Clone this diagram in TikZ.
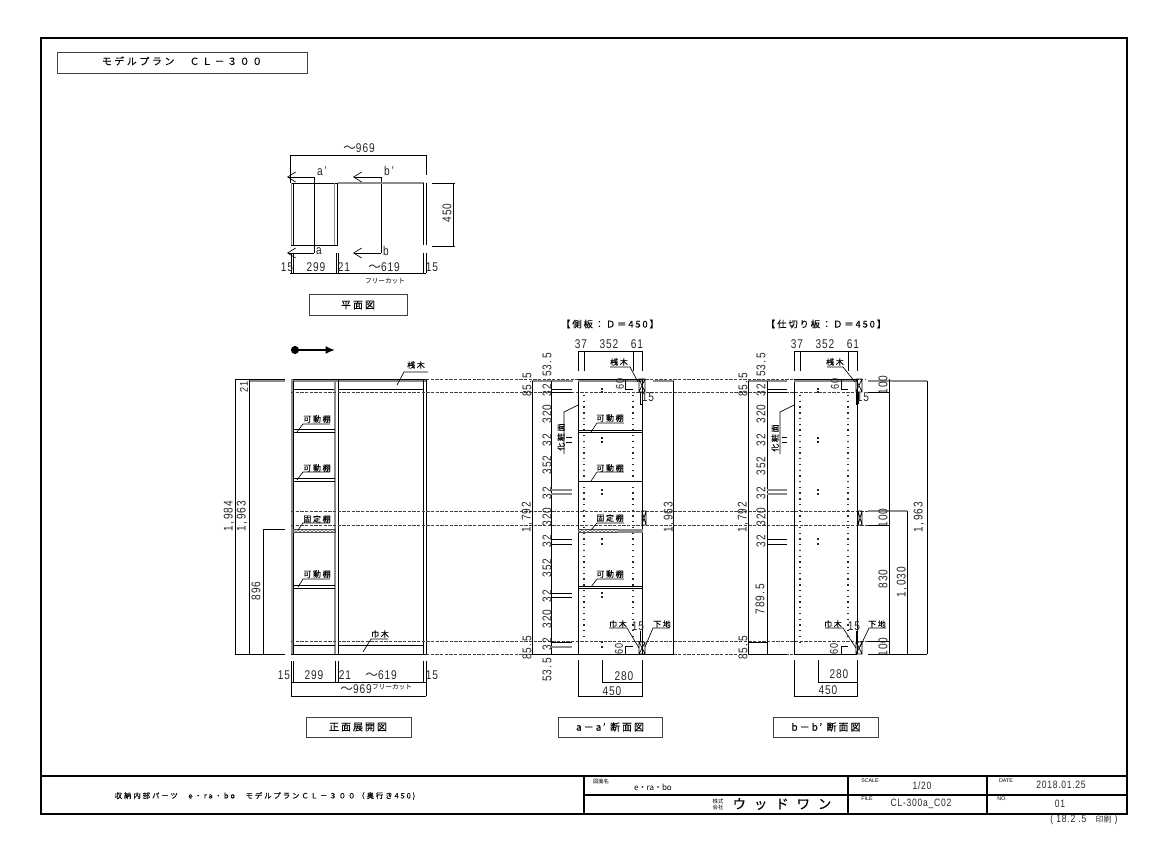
\documentclass[tikz,border=0pt]{standalone}
\usepackage{fontspec}
\usetikzlibrary{arrows.meta,patterns}
\newfontfamily\dimfam[LetterSpace=7,FakeStretch=0.8]{Liberation Sans}
\newfontfamily\jpfam[LetterSpace=20,FakeBold=0.1]{Noto Sans CJK JP}
\newfontfamily\jpwide[LetterSpace=27,FakeBold=0.1]{Noto Sans CJK JP}
\newfontfamily\jptight{Noto Sans CJK JP}
\newfontfamily\blockfam{Liberation Sans}
\newcommand{\wavesign}{{\jptight ～}}
\tikzset{
  every picture/.style={line width=0.5pt},
  dimtxt/.style={inner sep=0pt,text=black!85,font=\dimfam\fontsize{9.5}{9.5}\selectfont},
  dimvert/.style={dimtxt,rotate=90},
  smalldim/.style={inner sep=0pt,text=black!85,font=\dimfam\fontsize{8.5}{8.5}\selectfont},
  smallvert/.style={smalldim,rotate=90},
  partlabel/.style={inner sep=0pt,font=\jpfam\fontsize{6}{6}\selectfont},
  partvert/.style={partlabel,rotate=90},
  freecut/.style={inner sep=0pt,font=\jptight\fontsize{5}{5}\selectfont},
  viewtitle/.style={inner sep=0pt,font=\jpfam\fontsize{7.5}{7.5}\selectfont},
  sectitle/.style={inner sep=0pt,font=\jpfam\fontsize{7}{7}\selectfont},
  blockjp/.style={inner sep=0pt,font=\jpwide\fontsize{5.5}{5.5}\selectfont},
  blocksmall/.style={inner sep=0pt,font=\blockfam\fontsize{4}{4}\selectfont},
  blocktxt/.style={inner sep=0pt,text=black!85,font=\dimfam\fontsize{8}{8}\selectfont},
  viewbox/.style={draw=black!75,line width=0.7pt},
  frameline/.style={line width=1.4pt},
  greyline/.style={draw=black!45,line width=0.9pt},
  greybar/.style={draw=black!45,line width=1.8pt},
  hidden/.style={draw=black!75,line width=0.45pt,dash pattern=on 2.5pt off 1pt},
  dotrow/.style={draw=black!85,line width=1pt,dash pattern=on 1pt off 3.3pt},
  dotpair/.style={draw=black!85,line width=1pt},
  cutarrow/.style={-{Straight Barb[length=6pt,width=7.5pt]}},
}
\begin{document}
\begin{tikzpicture}[x=0.75pt,y=0.75pt,yscale=-1,xscale=1]
\useasboundingbox (0,0) rectangle (1169,852);

%Frame and title block
\draw [frameline] (41,38) rectangle (1127,814);
\draw [frameline] (41,776) -- (1127,776) (584,776) -- (584,814) (848,776) -- (848,814) (987,776) -- (987,814) ;
\draw [line width=1pt] (584,795) -- (1127,795) ;
%View boxes
\draw [viewbox] (57,52) rectangle (307,73);
\draw [viewbox] (309,294) rectangle (407,315);
\draw [viewbox] (306,717) rectangle (411,737);
\draw [viewbox] (558,717) rectangle (662,737);
\draw [viewbox] (773,717) rectangle (878,737);

%Plan
\draw (290,183) -- (290,155) -- (426,155) -- (426,175) ;
\draw [cutarrow] (314,177) -- (287,177) ;
\draw [cutarrow] (314,253) -- (287,253) ;
\draw (314,177) -- (314,253) ;
\draw [cutarrow] (381,177) -- (353,177) ;
\draw [cutarrow] (381,253) -- (353,253) ;
\draw (381,177) -- (381,253) ;
\draw [greybar] (338,183) -- (424,183) ;
\draw (291,183) -- (338,183) (291,245) -- (338,245) ;
\draw [greyline] (291.5,183) -- (291.5,245) (334.5,183) -- (334.5,245) ;
\draw (293,183) -- (293,245) (337.5,183) -- (337.5,245) (423.5,183) -- (423.5,245) (426,183) -- (426,245) ;
\draw (432,183) -- (455,183) (432,246) -- (455,246) (453,183) -- (453,246) ;
\draw (290,273) -- (426,273) ;
\draw (291,253) -- (291,273) (293,253) -- (293,273) (336,253) -- (336,273) (338,253) -- (338,273) (423.5,253) -- (423.5,273) (426,253) -- (426,273) ;

%Front view
\draw [line width=1.3pt,{Circle[length=6pt,width=6pt]}-{Latex[length=7pt,width=6pt]}] (291,350) -- (335,350) ;
\draw (291,379) -- (426,379) (292,389) -- (335,389) (338,389) -- (423,389) ;
\draw [greyline] (292,381) -- (426,381) ;
\draw [greybar] (292,379) -- (292,654) ;
\draw [greyline] (335,381) -- (335,654) ;
\draw (293.5,381) -- (293.5,654) (338,379) -- (338,654) (423,379) -- (423,654) (426,379) -- (426,654) ;
\draw (291,654) -- (426,654) (293,645) -- (335,645) (338,645) -- (423,645) ;
\draw (293,429) -- (335,429) (293,432) -- (335,432) (293,478) -- (335,478) (293,481) -- (335,481) (293,585) -- (335,585) (293,588) -- (335,588) ;
\draw [pattern=crosshatch,pattern color=black!60,draw=black!70] (293,529) rectangle (335,532.5);
%Front view dimensions
\draw (235,379) -- (285,379) (235,654) -- (285,654) (263,529) -- (285,529) ;
\draw [greyline] (249,381) -- (285,381) ;
\draw (235,379) -- (235,654) (249,379) -- (249,654) (263,529) -- (263,654) ;
\draw (291,661) -- (291,696) (293,661) -- (293,682) (335,661) -- (335,682) (338,661) -- (338,682) (423,661) -- (423,682) (426,661) -- (426,696) ;
\draw (291,682) -- (426,682) (291,696) -- (426,696) ;
%Front view leaders
\draw (428,372) -- (404,372) -- (397,385) ;
\draw (330,424) -- (303,424) -- (297,432) ;
\draw (330,472) -- (303,472) -- (297,480) ;
\draw (330,523) -- (303,523) -- (298,530) ;
\draw (330,579) -- (303,579) -- (298,587) ;
\draw (388,639) -- (371,639) -- (363,652) ;

%Hidden lines
\draw [hidden] (426,379) -- (865,379) ;
\draw [hidden] (291,392) -- (860,392) ;
\draw [hidden] (291,511) -- (868,511) ;
\draw [hidden] (291,525) -- (868,525) ;
\draw [hidden] (291,641) -- (868,641) ;
\draw [hidden] (426,654) -- (794,654) ;

%Section a
\draw (578,371) -- (578,351) -- (642,351) -- (642,371) (584,351) -- (584,371) (633,351) -- (633,371) ;
\draw (578,379) -- (642,379) (578,379) -- (578,654) (642,379) -- (642,654) (532,654) -- (674,654) ;
\draw [greyline] (578,381) -- (642,381) (532,381) -- (573,381) (653,381) -- (674,381) ;
\draw (532,381) -- (532,654) (551,381) -- (551,654) (673.5,381) -- (673.5,654) ;
\draw (551,389) -- (572,389) (551,392) -- (572,392) (566,437) -- (572,437) (566,442) -- (572,442) (551,539) -- (572,539) (551,544) -- (572,544) (551,593) -- (572,593) (551,597) -- (572,597) (551,642) -- (572,642) ;
\draw [greyline] (551,490) -- (572,490) (551,494) -- (572,494) (551,647) -- (572,647) ;
\draw (578,405) -- (564,412) -- (564,454) ;
\draw [dotrow] (584,395) -- (584,638) (633,395) -- (633,640) ;
\draw [dotpair] (602,388) -- (602,389.5) (602,391) -- (602,392.5) (602,437) -- (602,438.5) (602,441) -- (602,442.5) (602,489) -- (602,490.5) (602,493) -- (602,494.5) (602,538) -- (602,539.5) (602,543) -- (602,544.5) (602,592) -- (602,593.5) (602,596) -- (602,597.5) (602,641) -- (602,642.5) (602,646) -- (602,647.5) ;
\draw (578,430) -- (642,430) (578,432) -- (642,432) (578,481) -- (642,481) (578,586) -- (642,586) (578,588.5) -- (642,588.5) ;
\draw [pattern=crosshatch,pattern color=black!60,draw=black!70] (578,529) rectangle (618,532.5);
\draw [draw=black!45,fill=black!45] (618,529) rectangle (642,532.5);
\draw (639,379) rectangle (645,392) (639,379) -- (645,392) (645,379) -- (639,392) ;
\draw (642,511) rectangle (646,525) (642,511) -- (646,525) (646,511) -- (642,525) ;
\draw (639,642) rectangle (645,654) (639,642) -- (645,654) (645,642) -- (639,654) ;
\draw (610,367) -- (630,367) -- (638,382) ;
\draw (597,423) -- (624,423) (597,423) -- (591,432) ;
\draw (597,472) -- (624,472) (597,472) -- (591,481) ;
\draw (597,523) -- (624,523) (597,523) -- (591,530) ;
\draw (597,579) -- (624,579) (597,579) -- (591,587) ;
\draw (609,628) -- (627,628) -- (639,648) ;
\draw (670,628) -- (653,628) -- (645,647) ;
\draw (625,379) -- (625,389) -- (633,389) (625,654) -- (625,646) -- (633,646) ;
\draw (640,392) -- (640,404) (642,392) -- (642,404) (640,404) -- (642,404) (640,631) -- (640,642) ;
\draw (578,660) -- (578,696) -- (642,696) -- (642,660) (602,660) -- (602,682) -- (642,682) ;

%Section b
\draw (794,371) -- (794,351) -- (857,351) -- (857,371) (800,351) -- (800,371) (848,351) -- (848,371) ;
\draw (794,379) -- (857,379) (794,379) -- (794,654) (857,379) -- (857,654) (748,654) -- (787,654) (794,654) -- (857,654) (868,654) -- (927,654) ;
\draw [greyline] (794,381) -- (857,381) (748,381) -- (787,381) (868,381) -- (927,381) (868,511) -- (907,511) ;
\draw (748,381) -- (748,654) (767,381) -- (767,654) (889,379) -- (889,654) (907,511) -- (907,654) (927,381) -- (927,654) ;
\draw (868,392) -- (889,392) (868,525) -- (889,525) (868,641) -- (889,641) (748,642) -- (767,642) ;
\draw (767,389) -- (787,389) (767,392) -- (787,392) (782,437) -- (787,437) (782,442) -- (787,442) (767,539) -- (787,539) (767,544) -- (787,544) ;
\draw [greyline] (767,490) -- (787,490) (767,494) -- (787,494) ;
\draw (794,405) -- (780,412) -- (780,454) ;
\draw [dotrow] (800,395) -- (800,642) (848,395) -- (848,640) ;
\draw [dotpair] (818,388) -- (818,389.5) (818,391) -- (818,392.5) (818,437) -- (818,438.5) (818,441) -- (818,442.5) (818,489) -- (818,490.5) (818,493) -- (818,494.5) (818,538) -- (818,539.5) (818,543) -- (818,544.5) ;
\draw (856,379) rectangle (862,392) (856,379) -- (862,392) (862,379) -- (856,392) ;
\draw (858,511) rectangle (862,525) (858,511) -- (862,525) (862,511) -- (858,525) ;
\draw (856,642) rectangle (862,654) (856,642) -- (862,654) (862,642) -- (856,654) ;
\draw (827,367) -- (843,367) -- (855,382) ;
\draw (825,628) -- (843,628) -- (856,648) ;
\draw (886,628) -- (869,628) -- (860,647) ;
\draw (841,379) -- (841,389) -- (848,389) (841,654) -- (841,646) -- (848,646) ;
\draw (856,392) -- (856,404) (858,392) -- (858,404) (856,404) -- (858,404) (856,631) -- (856,642) ;
\draw (794,660) -- (794,696) -- (857,696) -- (857,660) (818,660) -- (818,682) -- (857,682) ;

% Text Node
\node (modelTitle) [inner sep=0pt,font=\jpwide\fontsize{7.4}{7.4}\selectfont] at (182,61) {モデルプラン　ＣＬ－３００};
% Text Node
\node (planWidth) [dimtxt] at (359,148) {\wavesign 969};
\node (planCutA) [dimtxt] at (319,251) {a};
\node (planCutAp) [dimtxt] at (322,171) {a\,’};
\node (planCutB) [dimtxt] at (386,251) {b};
\node (planCutBp) [dimtxt] at (389,171) {b\,’};
\node (planDepth) [dimvert] at (447,213) {450};
\node (planSideL) [dimtxt] at (287,267) {15};
\node (planShelf) [dimtxt] at (316,267) {299};
\node (planDiv) [dimtxt] at (344,267) {21};
\node (planFree) [dimtxt] at (384,267) {\wavesign 619};
\node (planSideR) [dimtxt] at (432,267) {15};
\node (planCutNote) [freecut] at (385,281) {フリーカット};
\node (planName) [viewtitle] at (358,305) {平面図};
% Text Node
\node (frontBatten) [partlabel] at (416,365) {桟木};
\node (frontShelfA) [partlabel] at (317,419) {可動棚};
\node (frontShelfB) [partlabel] at (317,468) {可動棚};
\node (frontFixed) [partlabel] at (317,519) {固定棚};
\node (frontShelfC) [partlabel] at (317,574) {可動棚};
\node (frontSkirt) [partlabel] at (380,634) {巾木};
\node (frontTop) [smallvert] at (244,387) {21};
\node (frontFull) [dimvert] at (229,516) {1,\,984};
\node (frontInner) [dimvert] at (242,516) {1,\,963};
\node (frontFixedH) [dimvert] at (256,591) {896};
\node (frontSideL) [dimtxt] at (284,675) {15};
\node (frontShelf) [dimtxt] at (314,675) {299};
\node (frontDiv) [dimtxt] at (345,675) {21};
\node (frontFree) [dimtxt] at (381,675) {\wavesign 619};
\node (frontSideR) [dimtxt] at (432,675) {15};
\node (frontWidth) [dimtxt] at (356,689) {\wavesign 969};
\node (frontCutNote) [freecut] at (392,687) {フリーカット};
\node (frontName) [viewtitle] at (358,727) {正面展開図};
% Text Node
\node (secATitle) [sectitle] at (610,324) {【側板：Ｄ＝450】};
\node (secADa) [dimtxt] at (581,344) {37};
\node (secADb) [dimtxt] at (609,344) {352};
\node (secADc) [dimtxt] at (637,344) {61};
\node (secABatten) [partlabel] at (619,362) {桟木};
\node (secAShelfA) [partlabel] at (610,418) {可動棚};
\node (secAShelfB) [partlabel] at (610,468) {可動棚};
\node (secAFixed) [partlabel] at (610,518) {固定棚};
\node (secAShelfC) [partlabel] at (610,574) {可動棚};
\node (secASkirt) [partlabel] at (618,624) {巾木};
\node (secABase) [partlabel] at (662,624) {下地};
\node (secAFace) [partvert] at (561,437) {化粧面};
\node (secATopA) [smallvert] at (620,384) {60};
\node (secABotA) [smallvert] at (619,649) {60};
\node (secATopB) [dimtxt] at (648,397) {15};
\node (secABotB) [dimtxt] at (638,626) {15};
\node (secAV1) [dimvert] at (547,365) {53.\,5};
\node (secAV2) [dimvert] at (527,385) {85.\,5};
\node (secAV3) [dimvert] at (547,390) {32};
\node (secAV4) [dimvert] at (547,414) {320};
\node (secAV5) [dimvert] at (547,440) {32};
\node (secAV6) [dimvert] at (547,465) {352};
\node (secAV7) [dimvert] at (547,493) {32};
\node (secAV8) [dimvert] at (547,517) {320};
\node (secAV9) [dimvert] at (527,517) {1,\,792};
\node (secAV10) [dimvert] at (547,541) {32};
\node (secAV11) [dimvert] at (547,568) {352};
\node (secAV12) [dimvert] at (547,596) {32};
\node (secAV13) [dimvert] at (547,619) {320};
\node (secAV14) [dimvert] at (547,644) {32};
\node (secAV15) [dimvert] at (527,648) {85.\,5};
\node (secAV16) [dimvert] at (547,670) {53.\,5};
\node (secAHigh) [dimvert] at (669,517) {1,\,963};
\node (secADeepA) [dimtxt] at (624,676) {280};
\node (secADeepB) [dimtxt] at (612,691) {450};
\node (secAName) [viewtitle] at (610,727) {a－a\,’ 断面図};
% Text Node
\node (secBTitle) [sectitle] at (826,324) {【仕切り板：Ｄ＝450】};
\node (secBDa) [dimtxt] at (797,344) {37};
\node (secBDb) [dimtxt] at (825,344) {352};
\node (secBDc) [dimtxt] at (853,344) {61};
\node (secBBatten) [partlabel] at (835,362) {桟木};
\node (secBSkirt) [partlabel] at (833,624) {巾木};
\node (secBBase) [partlabel] at (877,624) {下地};
\node (secBFace) [partvert] at (775,438) {化粧面};
\node (secBTopA) [smallvert] at (835,384) {60};
\node (secBBotA) [smallvert] at (834,649) {60};
\node (secBTopB) [dimtxt] at (863,397) {15};
\node (secBBotB) [dimtxt] at (854,626) {15};
\node (secBV1) [dimvert] at (761,365) {53.\,5};
\node (secBV2) [dimvert] at (743,385) {85.\,5};
\node (secBV3) [dimvert] at (761,390) {32};
\node (secBV4) [dimvert] at (761,414) {320};
\node (secBV5) [dimvert] at (761,440) {32};
\node (secBV6) [dimvert] at (761,466) {352};
\node (secBV7) [dimvert] at (761,493) {32};
\node (secBV8) [dimvert] at (761,517) {320};
\node (secBV9) [dimvert] at (743,517) {1,\,792};
\node (secBV10) [dimvert] at (761,541) {32};
\node (secBV11) [dimvert] at (760,599) {789.\,5};
\node (secBV12) [dimvert] at (743,648) {85.\,5};
\node (secBHundA) [dimvert] at (883,385) {100};
\node (secBHundB) [dimvert] at (883,518) {100};
\node (secBHundC) [dimvert] at (883,647) {100};
\node (secBLowA) [dimvert] at (883,579) {830};
\node (secBLowB) [dimvert] at (902,582) {1,\,030};
\node (secBHigh) [dimvert] at (919,517) {1,\,963};
\node (secBDeepA) [dimtxt] at (839,674) {280};
\node (secBDeepB) [dimtxt] at (828,690) {450};
\node (secBName) [viewtitle] at (826,727) {b－b\,’ 断面図};
% Text Node
\node (blockName) [blockjp] at (265,796) {収納内部パーツ\hspace{8pt}e・ra・bo\hspace{8pt}モデルプランＣＬ－３００（奥行き450)};
\node (blockDwg) [inner sep=0pt,font=\jptight\fontsize{4}{4}\selectfont] at (601,781) {図面名};
\node (blockSeries) [inner sep=0pt,font=\jptight\fontsize{6}{6}\selectfont] at (653,787) {e・ra・bo};
\node (blockCorpA) [inner sep=0pt,font=\jptight\fontsize{4}{4}\selectfont] at (718,801) {株式};
\node (blockCorpB) [inner sep=0pt,font=\jptight\fontsize{4}{4}\selectfont] at (718,807) {会社};
\node (blockMaker) [inner sep=0pt,font=\jpwide\fontsize{10}{10}\selectfont] at (782,804) {ウ\hspace{6pt}ッ\hspace{6pt}ド\hspace{6pt}ワ\hspace{6pt}ン};
\node (blockScaleKey) [blocksmall] at (870,781) {SCALE};
\node (blockScale) [blocktxt] at (922,786) {1/20};
\node (blockFileKey) [blocksmall] at (867,799) {FILE};
\node (blockFile) [blocktxt] at (921,804) {CL-300a\_C02};
\node (blockDateKey) [blocksmall] at (1006,781) {DATE};
\node (blockDate) [blocktxt] at (1061,785) {2018.01.25};
\node (blockNoKey) [blocksmall] at (1002,799) {NO.};
\node (blockNo) [blocktxt] at (1060,804) {01};
\node (blockPrint) [blocktxt] at (1084,820) {( 18.2 .5\ \ \ {\jptight\fontsize{6}{6}\selectfont 印刷} )};

\end{tikzpicture}
\end{document}
